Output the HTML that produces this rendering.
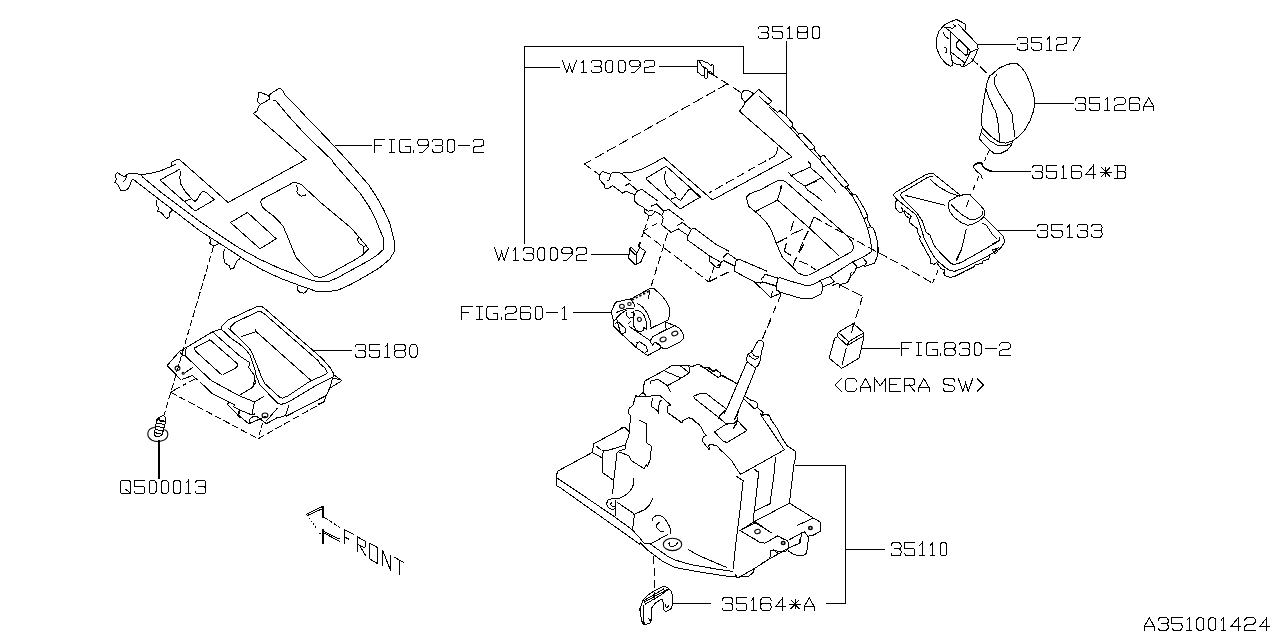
<!DOCTYPE html>
<html><head><meta charset="utf-8"><title>A351001424</title>
<style>
html,body{margin:0;padding:0;background:#fff;}
body{width:1280px;height:640px;overflow:hidden;font-family:"Liberation Sans",sans-serif;}
svg{display:block;}
</style></head><body>
<svg width="1280" height="640" viewBox="0 0 1280 640">
<rect width="1280" height="640" fill="#fff"/>
<g fill="none" stroke="#000" stroke-width="1.0" stroke-linecap="square" stroke-linejoin="miter" vector-effect="non-scaling-stroke" shape-rendering="crispEdges">
<path d="M384.66,139.50 L374.00,139.50 L374.00,152.20 M374.00,145.58 L381.10,145.58 M391.96,139.50 L391.96,152.20 M389.27,139.50 L394.65,139.50 M389.27,152.20 L394.65,152.20 M410.33,139.50 L401.80,139.50 Q399.27,139.50 399.27,141.99 L399.27,149.71 Q399.27,152.20 401.80,152.20 L410.33,152.20 L410.33,146.27 L405.68,146.27 M413.93,150.01 L413.93,152.50 M428.29,143.29 Q428.29,145.78 425.75,145.78 L420.38,145.78 Q417.84,145.78 417.84,143.29 L417.84,141.99 Q417.84,139.50 420.38,139.50 L425.75,139.50 Q428.29,139.50 428.29,141.99 L428.29,146.67 L422.86,152.20 L419.93,152.20 M432.25,141.79 Q432.25,139.50 434.78,139.50 L440.16,139.50 Q442.70,139.50 442.70,141.79 L442.70,143.38 Q442.70,145.58 440.16,145.58 L435.70,145.58 M440.16,145.58 Q442.70,145.58 442.70,147.97 L442.70,149.71 Q442.70,152.20 440.16,152.20 L434.78,152.20 Q432.25,152.20 432.25,149.91 M450.06,139.50 L451.68,139.50 Q454.42,139.50 454.42,142.19 L454.42,149.51 Q454.42,152.20 451.68,152.20 L450.06,152.20 Q447.32,152.20 447.32,149.51 L447.32,142.19 Q447.32,139.50 450.06,139.50 M458.68,145.68 L469.44,145.68 M473.04,141.99 Q473.04,139.50 475.58,139.50 L481.36,139.50 Q483.90,139.50 483.90,141.99 L483.90,143.58 Q483.90,145.78 481.36,146.07 L475.58,146.67 Q473.04,147.07 473.04,149.06 L473.04,152.20 L483.90,152.20"/>
<path d="M758.00,28.66 Q758.00,26.50 760.51,26.50 L765.83,26.50 Q768.34,26.50 768.34,28.66 L768.34,30.17 Q768.34,32.24 765.83,32.24 L761.41,32.24 M765.83,32.24 Q768.34,32.24 768.34,34.50 L768.34,36.15 Q768.34,38.50 765.83,38.50 L760.51,38.50 Q758.00,38.50 758.00,36.34 M782.60,26.50 L772.26,26.50 L772.26,31.68 L779.89,31.68 Q782.60,31.68 782.60,34.03 L782.60,36.15 Q782.60,38.50 780.09,38.50 L774.77,38.50 Q772.26,38.50 772.26,36.34 M787.77,28.76 L789.88,26.50 L789.88,38.50 M787.57,38.50 L792.19,38.50 M799.47,26.50 L805.59,26.50 Q807.90,26.50 807.90,28.66 L807.90,30.08 Q807.90,32.24 805.59,32.24 L799.47,32.24 Q797.16,32.24 797.16,30.08 L797.16,28.66 Q797.16,26.50 799.47,26.50 M799.67,32.24 L805.39,32.24 Q807.90,32.24 807.90,34.59 L807.90,36.15 Q807.90,38.50 805.39,38.50 L799.67,38.50 Q797.16,38.50 797.16,36.15 L797.16,34.59 Q797.16,32.24 799.67,32.24 M815.18,26.50 L816.79,26.50 Q819.50,26.50 819.50,29.04 L819.50,35.96 Q819.50,38.50 816.79,38.50 L815.18,38.50 Q812.47,38.50 812.47,35.96 L812.47,29.04 Q812.47,26.50 815.18,26.50"/>
<path d="M562.40,60.50 L566.76,72.40 L569.43,64.61 L572.10,72.40 L576.45,60.50 M581.62,62.74 L583.73,60.50 L583.73,72.40 M581.42,72.40 L586.04,72.40 M591.01,62.65 Q591.01,60.50 593.52,60.50 L598.84,60.50 Q601.35,60.50 601.35,62.65 L601.35,64.14 Q601.35,66.19 598.84,66.19 L594.42,66.19 M598.84,66.19 Q601.35,66.19 601.35,68.43 L601.35,70.07 Q601.35,72.40 598.84,72.40 L593.52,72.40 Q591.01,72.40 591.01,70.25 M608.63,60.50 L610.23,60.50 Q612.94,60.50 612.94,63.02 L612.94,69.88 Q612.94,72.40 610.23,72.40 L608.63,72.40 Q605.91,72.40 605.91,69.88 L605.91,63.02 Q605.91,60.50 608.63,60.50 M620.87,60.50 L622.48,60.50 Q625.19,60.50 625.19,63.02 L625.19,69.88 Q625.19,72.40 622.48,72.40 L620.87,72.40 Q618.16,72.40 618.16,69.88 L618.16,63.02 Q618.16,60.50 620.87,60.50 M640.09,64.05 Q640.09,66.38 637.58,66.38 L632.26,66.38 Q629.76,66.38 629.76,64.05 L629.76,62.83 Q629.76,60.50 632.26,60.50 L637.58,60.50 Q640.09,60.50 640.09,62.83 L640.09,67.22 L634.72,72.40 L631.82,72.40 M644.01,62.83 Q644.01,60.50 646.52,60.50 L652.24,60.50 Q654.75,60.50 654.75,62.83 L654.75,64.33 Q654.75,66.38 652.24,66.66 L646.52,67.22 Q644.01,67.59 644.01,69.46 L644.01,72.40 L654.75,72.40"/>
<path d="M494.50,247.75 L498.85,260.25 L501.52,252.06 L504.19,260.25 L508.54,247.75 M513.70,250.10 L515.81,247.75 L515.81,260.25 M513.50,260.25 L518.11,260.25 M523.08,250.00 Q523.08,247.75 525.58,247.75 L530.90,247.75 Q533.41,247.75 533.41,250.00 L533.41,251.57 Q533.41,253.73 530.90,253.73 L526.49,253.73 M530.90,253.73 Q533.41,253.73 533.41,256.08 L533.41,257.80 Q533.41,260.25 530.90,260.25 L525.58,260.25 Q523.08,260.25 523.08,258.00 M540.68,247.75 L542.28,247.75 Q544.99,247.75 544.99,250.40 L544.99,257.60 Q544.99,260.25 542.28,260.25 L540.68,260.25 Q537.97,260.25 537.97,257.60 L537.97,250.40 Q537.97,247.75 540.68,247.75 M552.91,247.75 L554.51,247.75 Q557.22,247.75 557.22,250.40 L557.22,257.60 Q557.22,260.25 554.51,260.25 L552.91,260.25 Q550.20,260.25 550.20,257.60 L550.20,250.40 Q550.20,247.75 552.91,247.75 M572.11,251.48 Q572.11,253.93 569.60,253.93 L564.29,253.93 Q561.78,253.93 561.78,251.48 L561.78,250.20 Q561.78,247.75 564.29,247.75 L569.60,247.75 Q572.11,247.75 572.11,250.20 L572.11,254.81 L566.74,260.25 L563.85,260.25 M576.02,250.20 Q576.02,247.75 578.53,247.75 L584.24,247.75 Q586.75,247.75 586.75,250.20 L586.75,251.77 Q586.75,253.93 584.24,254.22 L578.53,254.81 Q576.02,255.20 576.02,257.16 L576.02,260.25 L586.75,260.25"/>
<path d="M472.16,306.50 L461.50,306.50 L461.50,319.25 M461.50,312.60 L468.61,312.60 M479.47,306.50 L479.47,319.25 M476.78,306.50 L482.16,306.50 M476.78,319.25 L482.16,319.25 M497.85,306.50 L489.32,306.50 Q486.78,306.50 486.78,309.00 L486.78,316.75 Q486.78,319.25 489.32,319.25 L497.85,319.25 L497.85,313.30 L493.20,313.30 M501.46,317.05 L501.46,319.55 M505.37,309.00 Q505.37,306.50 507.91,306.50 L513.69,306.50 Q516.23,306.50 516.23,309.00 L516.23,310.60 Q516.23,312.80 513.69,313.10 L507.91,313.70 Q505.37,314.10 505.37,316.10 L505.37,319.25 L516.23,319.25 M530.65,308.80 Q530.65,306.50 528.11,306.50 L522.73,306.50 Q520.19,306.50 520.19,309.00 L520.19,316.75 Q520.19,319.25 522.73,319.25 L528.11,319.25 Q530.65,319.25 530.65,316.75 L530.65,314.60 Q530.65,312.20 528.11,312.20 L522.73,312.20 Q520.19,312.20 520.19,314.60 M538.01,306.50 L539.64,306.50 Q542.38,306.50 542.38,309.20 L542.38,316.55 Q542.38,319.25 539.64,319.25 L538.01,319.25 Q535.27,319.25 535.27,316.55 L535.27,309.20 Q535.27,306.50 538.01,306.50 M546.64,312.70 L557.41,312.70 M562.28,308.90 L564.41,306.50 L564.41,319.25 M562.08,319.25 L566.75,319.25"/>
<path d="M355.25,346.80 Q355.25,344.50 357.77,344.50 L363.11,344.50 Q365.63,344.50 365.63,346.80 L365.63,348.40 Q365.63,350.60 363.11,350.60 L358.68,350.60 M363.11,350.60 Q365.63,350.60 365.63,353.00 L365.63,354.75 Q365.63,357.25 363.11,357.25 L357.77,357.25 Q355.25,357.25 355.25,354.95 M379.95,344.50 L369.57,344.50 L369.57,350.00 L377.23,350.00 Q379.95,350.00 379.95,352.50 L379.95,354.75 Q379.95,357.25 377.43,357.25 L372.09,357.25 Q369.57,357.25 369.57,354.95 M385.14,346.90 L387.26,344.50 L387.26,357.25 M384.94,357.25 L389.58,357.25 M396.89,344.50 L403.04,344.50 Q405.36,344.50 405.36,346.80 L405.36,348.30 Q405.36,350.60 403.04,350.60 L396.89,350.60 Q394.57,350.60 394.57,348.30 L394.57,346.80 Q394.57,344.50 396.89,344.50 M397.09,350.60 L402.84,350.60 Q405.36,350.60 405.36,353.10 L405.36,354.75 Q405.36,357.25 402.84,357.25 L397.09,357.25 Q394.57,357.25 394.57,354.75 L394.57,353.10 Q394.57,350.60 397.09,350.60 M412.66,344.50 L414.28,344.50 Q417.00,344.50 417.00,347.20 L417.00,354.55 Q417.00,357.25 414.28,357.25 L412.66,357.25 Q409.94,357.25 409.94,354.55 L409.94,347.20 Q409.94,344.50 412.66,344.50"/>
<path d="M122.94,480.50 L127.81,480.50 Q130.50,480.50 130.50,483.25 L130.50,490.75 Q130.50,493.50 127.81,493.50 L122.94,493.50 Q120.25,493.50 120.25,490.75 L120.25,483.25 Q120.25,480.50 122.94,480.50 M125.89,489.57 L130.80,493.50 M144.64,480.50 L134.38,480.50 L134.38,486.11 L141.95,486.11 Q144.64,486.11 144.64,488.66 L144.64,490.95 Q144.64,493.50 142.15,493.50 L136.87,493.50 Q134.38,493.50 134.38,491.15 M151.85,480.50 L153.44,480.50 Q156.13,480.50 156.13,483.25 L156.13,490.75 Q156.13,493.50 153.44,493.50 L151.85,493.50 Q149.16,493.50 149.16,490.75 L149.16,483.25 Q149.16,480.50 151.85,480.50 M164.00,480.50 L165.59,480.50 Q168.28,480.50 168.28,483.25 L168.28,490.75 Q168.28,493.50 165.59,493.50 L164.00,493.50 Q161.31,493.50 161.31,490.75 L161.31,483.25 Q161.31,480.50 164.00,480.50 M176.14,480.50 L177.73,480.50 Q180.42,480.50 180.42,483.25 L180.42,490.75 Q180.42,493.50 177.73,493.50 L176.14,493.50 Q173.45,493.50 173.45,490.75 L173.45,483.25 Q173.45,480.50 176.14,480.50 M186.19,482.95 L188.28,480.50 L188.28,493.50 M185.99,493.50 L190.57,493.50 M195.50,482.85 Q195.50,480.50 197.99,480.50 L203.26,480.50 Q205.75,480.50 205.75,482.85 L205.75,484.48 Q205.75,486.72 203.26,486.72 L198.88,486.72 M203.26,486.72 Q205.75,486.72 205.75,489.17 L205.75,490.95 Q205.75,493.50 203.26,493.50 L197.99,493.50 Q195.50,493.50 195.50,491.15"/>
<path d="M1017.40,39.69 Q1017.40,37.40 1019.89,37.40 L1025.18,37.40 Q1027.68,37.40 1027.68,39.69 L1027.68,41.28 Q1027.68,43.48 1025.18,43.48 L1020.79,43.48 M1025.18,43.48 Q1027.68,43.48 1027.68,45.87 L1027.68,47.61 Q1027.68,50.10 1025.18,50.10 L1019.89,50.10 Q1017.40,50.10 1017.40,47.81 M1041.84,37.40 L1031.57,37.40 L1031.57,42.88 L1039.15,42.88 Q1041.84,42.88 1041.84,45.37 L1041.84,47.61 Q1041.84,50.10 1039.35,50.10 L1034.06,50.10 Q1031.57,50.10 1031.57,47.81 M1046.98,39.79 L1049.07,37.40 L1049.07,50.10 M1046.78,50.10 L1051.37,50.10 M1056.31,39.89 Q1056.31,37.40 1058.80,37.40 L1064.49,37.40 Q1066.98,37.40 1066.98,39.89 L1066.98,41.48 Q1066.98,43.68 1064.49,43.97 L1058.80,44.57 Q1056.31,44.97 1056.31,46.96 L1056.31,50.10 L1066.98,50.10 M1072.12,37.40 L1080.50,37.40 L1073.52,50.10"/>
<path d="M1075.25,100.05 Q1075.25,97.75 1077.77,97.75 L1083.10,97.75 Q1085.62,97.75 1085.62,100.05 L1085.62,101.65 Q1085.62,103.85 1083.10,103.85 L1078.67,103.85 M1083.10,103.85 Q1085.62,103.85 1085.62,106.25 L1085.62,108.00 Q1085.62,110.50 1083.10,110.50 L1077.77,110.50 Q1075.25,110.50 1075.25,108.20 M1099.92,97.75 L1089.55,97.75 L1089.55,103.25 L1097.20,103.25 Q1099.92,103.25 1099.92,105.75 L1099.92,108.00 Q1099.92,110.50 1097.40,110.50 L1092.07,110.50 Q1089.55,110.50 1089.55,108.20 M1105.11,100.15 L1107.22,97.75 L1107.22,110.50 M1104.91,110.50 L1109.54,110.50 M1114.52,100.25 Q1114.52,97.75 1117.04,97.75 L1122.78,97.75 Q1125.30,97.75 1125.30,100.25 L1125.30,101.85 Q1125.30,104.05 1122.78,104.35 L1117.04,104.95 Q1114.52,105.35 1114.52,107.35 L1114.52,110.50 L1125.30,110.50 M1139.60,100.05 Q1139.60,97.75 1137.08,97.75 L1131.75,97.75 Q1129.23,97.75 1129.23,100.25 L1129.23,108.00 Q1129.23,110.50 1131.75,110.50 L1137.08,110.50 Q1139.60,110.50 1139.60,108.00 L1139.60,105.85 Q1139.60,103.45 1137.08,103.45 L1131.75,103.45 Q1129.23,103.45 1129.23,105.85 M1143.53,110.50 L1143.53,106.85 L1148.71,97.75 L1153.90,106.85 L1153.90,110.50 M1143.53,106.85 L1153.90,106.85"/>
<path d="M1032.40,167.80 Q1032.40,165.50 1034.89,165.50 L1040.16,165.50 Q1042.65,165.50 1042.65,167.80 L1042.65,169.40 Q1042.65,171.60 1040.16,171.60 L1035.78,171.60 M1040.16,171.60 Q1042.65,171.60 1042.65,174.00 L1042.65,175.75 Q1042.65,178.25 1040.16,178.25 L1034.89,178.25 Q1032.40,178.25 1032.40,175.95 M1056.77,165.50 L1046.52,165.50 L1046.52,171.00 L1054.08,171.00 Q1056.77,171.00 1056.77,173.50 L1056.77,175.75 Q1056.77,178.25 1054.28,178.25 L1049.01,178.25 Q1046.52,178.25 1046.52,175.95 M1061.89,167.90 L1063.98,165.50 L1063.98,178.25 M1061.69,178.25 L1066.27,178.25 M1081.44,167.80 Q1081.44,165.50 1078.95,165.50 L1073.68,165.50 Q1071.19,165.50 1071.19,168.00 L1071.19,175.75 Q1071.19,178.25 1073.68,178.25 L1078.95,178.25 Q1081.44,178.25 1081.44,175.75 L1081.44,173.60 Q1081.44,171.20 1078.95,171.20 L1073.68,171.20 Q1071.19,171.20 1071.19,173.60 M1093.32,178.25 L1093.32,165.50 L1086.16,174.30 L1095.71,174.30 M1100.09,172.00 L1111.23,172.00 M1101.68,167.70 L1109.64,176.30 M1109.64,167.70 L1101.68,176.30 M1105.66,167.40 L1105.66,176.60 M1117.30,165.50 L1117.30,178.25 M1114.61,165.50 L1123.06,165.50 Q1125.75,165.50 1125.75,167.80 L1125.75,169.40 Q1125.75,171.60 1123.06,171.60 L1117.30,171.60 M1123.06,171.60 Q1125.75,171.60 1125.75,174.00 L1125.75,175.75 Q1125.75,178.25 1123.06,178.25 L1114.61,178.25"/>
<path d="M1037.40,226.80 Q1037.40,224.50 1039.94,224.50 L1045.34,224.50 Q1047.88,224.50 1047.88,226.80 L1047.88,228.40 Q1047.88,230.60 1045.34,230.60 L1040.86,230.60 M1045.34,230.60 Q1047.88,230.60 1047.88,233.00 L1047.88,234.75 Q1047.88,237.25 1045.34,237.25 L1039.94,237.25 Q1037.40,237.25 1037.40,234.95 M1062.32,224.50 L1051.85,224.50 L1051.85,230.00 L1059.58,230.00 Q1062.32,230.00 1062.32,232.50 L1062.32,234.75 Q1062.32,237.25 1059.78,237.25 L1054.39,237.25 Q1051.85,237.25 1051.85,234.95 M1067.56,226.90 L1069.70,224.50 L1069.70,237.25 M1067.36,237.25 L1072.04,237.25 M1077.08,226.80 Q1077.08,224.50 1079.62,224.50 L1085.01,224.50 Q1087.55,224.50 1087.55,226.80 L1087.55,228.40 Q1087.55,230.60 1085.01,230.60 L1080.53,230.60 M1085.01,230.60 Q1087.55,230.60 1087.55,233.00 L1087.55,234.75 Q1087.55,237.25 1085.01,237.25 L1079.62,237.25 Q1077.08,237.25 1077.08,234.95 M1091.52,226.80 Q1091.52,224.50 1094.06,224.50 L1099.46,224.50 Q1102.00,224.50 1102.00,226.80 L1102.00,228.40 Q1102.00,230.60 1099.46,230.60 L1094.98,230.60 M1099.46,230.60 Q1102.00,230.60 1102.00,233.00 L1102.00,234.75 Q1102.00,237.25 1099.46,237.25 L1094.06,237.25 Q1091.52,237.25 1091.52,234.95"/>
<path d="M911.57,342.70 L901.00,342.70 L901.00,355.40 M901.00,348.78 L908.05,348.78 M918.81,342.70 L918.81,355.40 M916.15,342.70 L921.48,342.70 M916.15,355.40 L921.48,355.40 M937.03,342.70 L928.58,342.70 Q926.06,342.70 926.06,345.19 L926.06,352.91 Q926.06,355.40 928.58,355.40 L937.03,355.40 L937.03,349.47 L932.42,349.47 M940.60,353.21 L940.60,355.70 M946.79,342.70 L952.93,342.70 Q955.25,342.70 955.25,344.99 L955.25,346.49 Q955.25,348.78 952.93,348.78 L946.79,348.78 Q944.48,348.78 944.48,346.49 L944.48,344.99 Q944.48,342.70 946.79,342.70 M946.99,348.78 L952.73,348.78 Q955.25,348.78 955.25,351.27 L955.25,352.91 Q955.25,355.40 952.73,355.40 L946.99,355.40 Q944.48,355.40 944.48,352.91 L944.48,351.27 Q944.48,348.78 946.99,348.78 M959.17,344.99 Q959.17,342.70 961.69,342.70 L967.02,342.70 Q969.54,342.70 969.54,344.99 L969.54,346.58 Q969.54,348.78 967.02,348.78 L962.59,348.78 M967.02,348.78 Q969.54,348.78 969.54,351.17 L969.54,352.91 Q969.54,355.40 967.02,355.40 L961.69,355.40 Q959.17,355.40 959.17,353.11 M976.84,342.70 L978.45,342.70 Q981.16,342.70 981.16,345.39 L981.16,352.71 Q981.16,355.40 978.45,355.40 L976.84,355.40 Q974.12,355.40 974.12,352.71 L974.12,345.39 Q974.12,342.70 976.84,342.70 M985.39,348.88 L996.06,348.88 M999.63,345.19 Q999.63,342.70 1002.15,342.70 L1007.88,342.70 Q1010.40,342.70 1010.40,345.19 L1010.40,346.78 Q1010.40,348.98 1007.88,349.27 L1002.15,349.87 Q999.63,350.27 999.63,352.26 L999.63,355.40 L1010.40,355.40"/>
<path d="M841.25,378.60 L834.90,385.00 L841.25,391.40 M856.24,381.11 Q856.24,378.60 853.68,378.60 L848.26,378.60 Q845.70,378.60 845.70,381.11 L845.70,388.89 Q845.70,391.40 848.26,391.40 L853.68,391.40 Q856.24,391.40 856.24,388.89 M860.23,391.40 L860.23,387.74 L865.50,378.60 L870.77,387.74 L870.77,391.40 M860.23,387.74 L870.77,387.74 M874.76,391.40 L874.76,378.60 L880.19,385.83 L885.61,378.60 L885.61,391.40 M900.14,378.60 L889.60,378.60 L889.60,391.40 L900.14,391.40 M889.60,384.72 L896.98,384.72 M904.13,391.40 L904.13,378.60 L912.12,378.60 Q914.68,378.60 914.68,381.11 L914.68,382.72 Q914.68,385.13 912.12,385.13 L904.13,385.13 M909.40,385.13 L914.68,391.40 M918.67,391.40 L918.67,387.74 L923.94,378.60 L929.21,387.74 L929.21,391.40 M918.67,387.74 L929.21,387.74 M954.38,381.11 Q954.38,378.60 951.83,378.60 L945.89,378.60 Q943.33,378.60 943.33,381.11 L943.33,382.01 Q943.33,383.92 945.89,384.52 L951.83,385.63 Q954.38,386.23 954.38,387.94 L954.38,388.89 Q954.38,391.40 951.83,391.40 L945.89,391.40 Q943.33,391.40 943.33,388.89 M958.38,378.60 L962.82,391.40 L965.54,383.02 L968.26,391.40 L972.70,378.60 M977.15,378.60 L983.50,385.00 L977.15,391.40"/>
<path d="M891.00,545.13 Q891.00,542.80 893.44,542.80 L898.62,542.80 Q901.06,542.80 901.06,545.13 L901.06,546.75 Q901.06,548.97 898.62,548.97 L894.32,548.97 M898.62,548.97 Q901.06,548.97 901.06,551.40 L901.06,553.17 Q901.06,555.70 898.62,555.70 L893.44,555.70 Q891.00,555.70 891.00,553.37 M914.92,542.80 L904.87,542.80 L904.87,548.36 L912.29,548.36 Q914.92,548.36 914.92,550.89 L914.92,553.17 Q914.92,555.70 912.48,555.70 L907.31,555.70 Q904.87,555.70 904.87,553.37 M919.95,545.23 L922.00,542.80 L922.00,555.70 M919.76,555.70 L924.25,555.70 M930.30,545.23 L932.35,542.80 L932.35,555.70 M930.11,555.70 L934.60,555.70 M942.70,542.80 L944.26,542.80 Q946.90,542.80 946.90,545.53 L946.90,552.97 Q946.90,555.70 944.26,555.70 L942.70,555.70 Q940.07,555.70 940.07,552.97 L940.07,545.53 Q940.07,542.80 942.70,542.80"/>
<path d="M722.40,600.01 Q722.40,597.70 724.87,597.70 L730.10,597.70 Q732.57,597.70 732.57,600.01 L732.57,601.62 Q732.57,603.82 730.10,603.82 L725.76,603.82 M730.10,603.82 Q732.57,603.82 732.57,606.23 L732.57,607.99 Q732.57,610.50 730.10,610.50 L724.87,610.50 Q722.40,610.50 722.40,608.19 M746.58,597.70 L736.42,597.70 L736.42,603.22 L743.92,603.22 Q746.58,603.22 746.58,605.73 L746.58,607.99 Q746.58,610.50 744.12,610.50 L738.88,610.50 Q736.42,610.50 736.42,608.19 M751.67,600.11 L753.74,597.70 L753.74,610.50 M751.47,610.50 L756.01,610.50 M771.06,600.01 Q771.06,597.70 768.60,597.70 L763.37,597.70 Q760.90,597.70 760.90,600.21 L760.90,607.99 Q760.90,610.50 763.37,610.50 L768.60,610.50 Q771.06,610.50 771.06,607.99 L771.06,605.83 Q771.06,603.42 768.60,603.42 L763.37,603.42 Q760.90,603.42 760.90,605.83 M782.86,610.50 L782.86,597.70 L775.75,606.53 L785.23,606.53 M789.57,604.23 L800.63,604.23 M791.15,599.91 L799.05,608.54 M799.05,599.91 L791.15,608.54 M795.10,599.61 L795.10,608.84 M804.13,610.50 L804.13,606.84 L809.22,597.70 L814.30,606.84 L814.30,610.50 M804.13,606.84 L814.30,606.84"/>
<path d="M1144.25,630.25 L1144.25,626.67 L1149.28,617.75 L1154.30,626.67 L1154.30,630.25 M1144.25,626.67 L1154.30,626.67 M1158.11,620.00 Q1158.11,617.75 1160.55,617.75 L1165.73,617.75 Q1168.17,617.75 1168.17,620.00 L1168.17,621.57 Q1168.17,623.73 1165.73,623.73 L1161.43,623.73 M1165.73,623.73 Q1168.17,623.73 1168.17,626.08 L1168.17,627.80 Q1168.17,630.25 1165.73,630.25 L1160.55,630.25 Q1158.11,630.25 1158.11,628.00 M1182.03,617.75 L1171.97,617.75 L1171.97,623.14 L1179.39,623.14 Q1182.03,623.14 1182.03,625.59 L1182.03,627.80 Q1182.03,630.25 1179.59,630.25 L1174.41,630.25 Q1171.97,630.25 1171.97,628.00 M1187.06,620.10 L1189.11,617.75 L1189.11,630.25 M1186.86,630.25 L1191.35,630.25 M1199.45,617.75 L1201.01,617.75 Q1203.65,617.75 1203.65,620.40 L1203.65,627.60 Q1203.65,630.25 1201.01,630.25 L1199.45,630.25 Q1196.82,630.25 1196.82,627.60 L1196.82,620.40 Q1196.82,617.75 1199.45,617.75 M1211.36,617.75 L1212.92,617.75 Q1215.56,617.75 1215.56,620.40 L1215.56,627.60 Q1215.56,630.25 1212.92,630.25 L1211.36,630.25 Q1208.73,630.25 1208.73,627.60 L1208.73,620.40 Q1208.73,617.75 1211.36,617.75 M1221.22,620.10 L1223.27,617.75 L1223.27,630.25 M1221.03,630.25 L1225.52,630.25 M1238.21,630.25 L1238.21,617.75 L1231.18,626.38 L1240.55,626.38 M1244.80,620.20 Q1244.80,617.75 1247.24,617.75 L1252.80,617.75 Q1255.24,617.75 1255.24,620.20 L1255.24,621.77 Q1255.24,623.93 1252.80,624.22 L1247.24,624.81 Q1244.80,625.20 1244.80,627.16 L1244.80,630.25 L1255.24,630.25 M1266.91,630.25 L1266.91,617.75 L1259.88,626.38 L1269.25,626.38"/>
</g>
<g fill="none" stroke="#000" stroke-width="1.0" stroke-linecap="butt" stroke-linejoin="round" shape-rendering="crispEdges">
<path d="M335.0,145.5 L372.0,145.5"/>
<path d="M524.5,243.7 L524.5,46.3 L743.5,46.3 L743.5,73.4 L786.6,73.4"/>
<path d="M786.6,41.3 L786.6,116.3"/>
<path d="M524.5,67.0 L559.7,67.0"/>
<path d="M659.0,66.5 L697.3,66.5"/>
<path d="M591.2,254.4 L629.4,254.4"/>
<path d="M573.0,312.5 L611.0,312.5"/>
<path d="M312.5,350.3 L351.5,350.3"/>
<path d="M977.0,44.4 L1016.0,44.4"/>
<path d="M1034.7,103.5 L1073.7,103.5"/>
<path d="M998.0,230.3 L1036.0,230.3"/>
<path d="M861.0,348.4 L899.7,348.4"/>
<path d="M795.0,465.5 L845.6,465.5 L845.6,603.7 L826.3,603.7"/>
<path d="M845.6,549.5 L885.3,549.5"/>
<path d="M672.0,603.7 L710.5,603.7"/>
<path d="M132.5,178.8 L129.4,186.2 L127.5,189.4 L125.0,190.2 L120.6,190.2 L119.4,187.5 L117.5,184.4 L114.8,182.2 L116.2,179.4 L115.2,174.4 L117.5,172.8 L121.2,175.0 L125.0,176.9 L126.9,174.4 L130.0,173.5 L136.2,173.5 L141.2,174.8 L152.5,172.9 L161.2,170.6 L170.0,166.9 L176.2,163.8"/>
<path d="M171.2,165.6 L171.9,161.9 L176.9,159.4 L180.0,160.0 L228.1,202.5 L306.2,159.4 L253.5,113.5 L256.9,111.0 L258.8,106.2 L260.6,104.4 L258.8,103.1 L257.2,100.6 L258.8,96.2 L258.5,92.5 L261.2,92.5 L268.1,95.6 L269.4,96.9 L270.0,94.4 L274.4,91.2 L280.0,88.1 L283.1,91.2 L285.0,95.0 L297.5,107.5 L309.4,120.6 L320.0,131.2 L333.1,145.0 L346.9,160.0 L368.8,185.0 L376.2,196.2 L383.8,210.0 L390.0,223.8 L391.4,229.4 L394.5,241.9 L394.5,251.2 L389.8,259.1 L379.7,267.7 L365.6,276.2 L350.0,284.8 L337.5,290.3 L325.0,291.9 L315.6,291.1 L300.0,285.6 L281.2,278.6 L262.5,270.0 L243.8,259.1 L223.4,245.8 L200.0,230.9 L132.5,178.8"/>
<path d="M260.6,104.4 L269.4,99.4 L269.4,96.9"/>
<path d="M141.2,174.8 L142.5,176.9 L158.8,190.6 L200.0,221.6 L220.3,235.6 L240.6,248.9 L259.4,259.1 L278.1,267.7 L293.8,273.9 L306.2,278.6 L317.2,281.7 L328.1,281.7 L337.5,277.8 L353.1,269.2 L368.8,260.6 L378.1,254.4 L383.1,249.7 L383.6,238.8 L379.7,229.4 L378.8,227.5 L375.6,218.8 L368.8,206.2 L360.0,193.1 L333.1,162.5 L331.9,160.0 L318.8,147.5 L301.2,130.0 L288.1,115.6 L276.2,101.2 L273.1,100.0"/>
<path d="M368.8,248.9 L363.3,254.4 L356.2,259.1 L340.6,267.7 L328.1,274.7 L321.1,277.5 L314.8,276.6 L306.2,268.4 L296.1,257.5 L292.2,248.1 L286.9,235.0 L283.1,226.2 L280.0,222.5 L273.8,216.2 L266.2,210.6 L262.5,206.9 L260.6,201.9 L261.9,199.4 L290.0,184.4 L292.5,182.5 L296.2,182.8 L301.2,184.4 L320.0,201.9 L351.2,228.1 L357.8,235.6 L368.8,248.9"/>
<path d="M358.6,236.4 L357.5,240.3 L359.4,243.4 L364.1,246.6 L363.3,252.8"/>
<path d="M296.2,185.6 L298.1,188.1 L296.9,191.2 L297.5,193.8 L301.2,196.2 L305.0,195.6 L305.9,194.4"/>
<path d="M230.5,222.5 L247.5,212.5 L276.2,238.8 L260.0,248.8 L230.5,222.5"/>
<path d="M180.6,168.8 L160.0,180.0 L195.0,211.0 L214.4,199.8 L206.2,192.5 L203.8,191.2 L201.2,192.5 L197.5,198.8 L195.0,201.5 L192.5,199.4 L191.2,198.1"/>
<path d="M180.6,171.2 L179.8,177.5 L180.6,183.8 L185.0,191.2 L191.2,198.1"/>
<path d="M185.0,201.2 L191.2,198.8"/>
<path d="M156.9,200.0 L156.2,205.0 L158.8,208.1 L157.5,211.2 L161.2,212.5 L166.2,218.5 L168.8,217.5 L170.0,212.5 L172.5,210.0"/>
<path d="M122.5,182.5 L125.6,179.4 L126.5,176.2"/>
<path d="M209.4,238.0 L210.9,240.3 L209.7,243.4 L212.5,245.3 L216.4,245.0 L218.8,243.4"/>
<path d="M224.2,248.9 L223.4,255.9 L224.7,263.0 L228.9,265.3 L230.5,269.2 L233.6,268.4 L236.7,261.4 L240.3,258.3"/>
<path d="M297.7,285.6 L297.2,289.5 L300.0,292.7 L303.9,293.1 L306.6,291.1 L307.5,288.0"/>
<path d="M186.2,347.5 L179.4,351.5 L167.1,365.6 L181.2,380.0"/>
<path d="M179.4,351.5 L182.5,355.0 L185.0,355.6 L186.2,347.5"/>
<path d="M185.0,372.5 L193.1,367.5"/>
<path d="M181.9,379.4 L192.5,375.6 L197.5,380.0"/>
<path d="M178.8,363.5 L178.8,366.0"/>
<path d="M186.2,347.5 L212.5,331.9 L221.2,329.0 L221.2,326.9 L228.1,320.0 L256.2,306.9 L260.0,306.0 L263.8,307.5 L265.0,308.8 L312.5,350.0 L322.5,358.8 L330.0,367.5 L333.8,373.8 L333.8,373.8 L333.1,376.9 L315.0,386.2 L287.5,402.5 L281.2,404.4 L277.5,403.1 L260.0,385.0 L256.2,376.2 L255.0,370.0 L252.5,362.5 L250.0,355.0 L246.2,350.0 L240.0,344.4 L230.0,337.5 L221.2,329.0"/>
<path d="M228.1,328.1 L230.0,330.0 L230.6,326.9 L235.0,322.5 L258.8,311.2 L261.2,311.9 L265.0,314.4 L318.8,361.2 L320.0,363.8 L325.0,368.1 L325.0,368.8 L327.5,372.5 L325.6,374.4 L310.0,381.2 L287.5,396.2 L282.5,398.1 L280.0,397.5 L265.0,383.8 L261.2,376.2 L258.8,370.0 L255.0,360.0 L251.2,351.2 L247.5,346.2 L240.0,338.8 L228.1,328.1"/>
<path d="M241.2,336.5 L255.0,331.9 L255.0,329.4"/>
<path d="M255.0,330.6 L311.2,380.6"/>
<path d="M212.5,331.9 L213.8,333.1 L240.0,356.2 L249.4,362.5 L248.8,367.5 L252.5,373.1 L253.8,373.8 L255.6,382.5 L252.5,387.5"/>
<path d="M185.0,355.6 L210.0,379.4 L212.5,381.2 L238.8,395.6 L252.5,387.5 L255.0,378.8"/>
<path d="M194.4,348.1 L210.0,339.8 L237.5,363.8 L237.5,366.2"/>
<path d="M194.4,348.1 L195.6,351.2 L221.2,374.4 L220.6,374.4"/>
<path d="M223.1,374.4 L235.6,368.1 L237.5,366.2 L236.9,363.8 L233.1,360.0"/>
<path d="M200.0,381.9 L212.5,393.8 L228.8,401.9 L227.5,404.4 L237.5,414.4 L248.8,423.8 L250.0,418.8 L253.8,416.2 L257.5,416.9 L265.0,422.5 L266.2,423.8 L277.5,417.5 L281.2,416.9 L285.6,415.6 L288.8,405.0"/>
<path d="M238.8,395.6 L254.4,401.9 L263.8,396.5"/>
<path d="M254.4,401.9 L251.9,415.0"/>
<path d="M229.4,402.5 L234.4,404.4 L233.8,406.9 L240.0,410.0 L251.9,415.0 L255.0,413.8"/>
<path d="M248.8,423.8 L266.2,416.2"/>
<path d="M277.5,408.1 L266.2,421.2"/>
<path d="M333.1,374.4 L341.9,380.6 L330.0,388.1"/>
<path d="M332.5,378.1 L340.6,379.8"/>
<path d="M332.5,377.5 L331.2,383.8 L328.8,390.0 L326.2,395.6 L323.8,401.9 L317.5,404.4"/>
<path d="M326.2,395.6 L286.2,416.2"/>
<path d="M162.8,415.3 L159.4,417.5 L156.9,420.0 L156.2,423.1 L155.0,430.0 L154.1,434.4 L155.0,435.9 L158.1,436.6 L161.2,435.6 L161.9,434.4 L163.1,431.2 L164.4,426.2 L165.6,422.5 L165.9,419.4 L165.0,416.9 L162.8,415.3"/>
<path d="M157.3,419.5 L165.8,421.4"/>
<path d="M156.6,422.8 L165.4,424.9"/>
<path d="M155.9,426.1 L164.5,428.0"/>
<path d="M155.3,429.4 L163.6,431.2"/>
<path d="M154.7,432.6 L162.6,434.4"/>
<path d="M157.8,418.4 L159.4,420.9 L163.8,421.9"/>
<path d="M600.0,174.4 L602.5,171.5 L606.2,172.5 L610.6,174.4 L612.5,172.5 L621.2,173.1 L631.2,172.5 L642.5,168.8 L655.0,162.5 L663.8,157.5 L712.5,200.0 L791.9,156.9 L739.4,111.2 L743.8,105.6 L745.0,102.5 L753.8,93.8 L758.8,89.4 L771.9,101.2 L768.1,104.4 L777.5,112.5 L780.0,110.6 L786.2,116.2 L792.5,123.1 L792.5,123.1 L791.9,126.2 L798.8,133.8 L801.9,133.1 L815.0,146.9 L813.8,148.8 L820.0,156.9 L823.8,155.2 L848.8,185.0 L848.8,184.4 L846.9,186.9 L853.1,195.0 L855.6,194.4 L860.0,201.2 L865.0,210.0 L868.1,216.9 L867.5,219.4 L870.6,226.9 L873.1,228.1 L875.6,233.8 L877.5,242.5 L878.1,252.5 L876.9,257.5 L874.4,263.1 L863.8,266.9"/>
<path d="M758.8,96.2 L768.1,104.4"/>
<path d="M769.4,107.5 L790.0,128.1 L790.0,127.5 L810.0,150.0 L820.0,160.0 L842.5,186.2 L845.0,187.5 L852.5,196.2 L858.8,207.5 L863.8,218.8 L867.5,228.1 L870.0,237.5 L871.2,245.0 L871.9,247.5 L871.2,251.9 L862.5,257.5 L852.5,261.9 L830.6,276.2 L820.0,280.6 L816.2,283.1 L811.2,285.0 L805.0,285.2 L795.0,282.5 L779.4,277.5"/>
<path d="M791.9,126.2 L790.0,127.5"/>
<path d="M798.8,133.8 L797.5,135.4"/>
<path d="M813.8,148.8 L810.0,150.0"/>
<path d="M820.0,156.9 L820.0,160.0"/>
<path d="M848.8,185.0 L845.0,187.5"/>
<path d="M848.8,184.4 L845.0,187.5"/>
<path d="M853.1,195.0 L852.5,196.2"/>
<path d="M868.1,216.9 L863.8,218.8"/>
<path d="M870.6,226.9 L866.9,228.1"/>
<path d="M768.1,104.4 L769.4,105.6"/>
<path d="M753.8,93.8 L747.5,90.2 L743.8,90.6 L741.9,93.1 L741.2,97.5 L745.0,102.5"/>
<path d="M777.5,146.9 L776.9,152.5 L774.4,156.2 L768.8,159.4"/>
<path d="M645.6,178.5 L666.2,166.2 L700.6,196.9 L680.0,209.0 L645.6,178.5"/>
<path d="M665.6,170.6 L664.4,177.5 L666.2,184.4 L670.6,190.0 L675.6,193.8 L675.6,195.6"/>
<path d="M670.6,199.4 L675.6,197.2 L680.6,200.6 L688.8,189.4 L692.5,190.0 L699.4,197.5"/>
<path d="M600.0,174.4 L599.4,179.4 L604.4,185.0 L605.0,188.1 L608.1,188.8 L612.5,185.6 L622.5,193.1 L626.2,191.2 L635.0,195.0 L637.5,190.6 L641.9,189.4 L658.1,201.2"/>
<path d="M610.6,174.4 L609.4,180.0 L606.9,180.6"/>
<path d="M622.5,174.4 L630.6,181.2"/>
<path d="M624.4,186.2 L629.4,183.5 L637.5,190.6"/>
<path d="M635.0,195.0 L634.4,201.2 L638.1,204.4 L643.8,207.5 L645.0,212.5 L648.8,215.6 L652.5,215.0 L655.0,211.2 L661.9,215.6 L663.8,211.2 L668.8,209.4 L683.8,220.6"/>
<path d="M651.2,206.2 L656.2,203.8 L663.8,211.2"/>
<path d="M645.0,208.8 L648.1,211.2 L652.5,210.0"/>
<path d="M661.9,215.6 L663.1,218.1 L661.9,223.8 L661.2,224.4 L671.2,232.5 L678.1,228.8 L688.1,235.6 L691.2,229.4"/>
<path d="M676.9,225.6 L682.5,222.5 L691.2,229.4 L694.4,228.1 L716.2,244.4 L728.8,251.2"/>
<path d="M688.1,235.6 L687.5,240.0 L710.0,256.2 L709.4,261.2 L715.6,266.9 L719.4,267.5 L721.2,261.9 L723.8,260.6 L735.0,266.2 L735.6,261.2 L739.4,259.4 L766.9,271.2"/>
<path d="M710.0,256.2 L720.0,261.9"/>
<path d="M723.1,257.5 L727.5,253.1 L737.5,260.0"/>
<path d="M735.0,266.2 L734.4,271.2 L754.4,281.9 L761.2,283.1 L762.5,281.9 L776.2,286.2 L778.1,278.1 L765.0,274.4 L761.2,279.4"/>
<path d="M754.4,281.9 L760.6,283.1 L762.5,281.9 L776.2,285.6 L778.1,278.1 L765.6,274.4 L762.5,278.1"/>
<path d="M754.4,281.9 L770.6,297.5 L781.2,293.1 L776.2,290.0 L776.9,286.9"/>
<path d="M772.5,290.6 L771.2,296.9"/>
<path d="M776.9,290.0 L781.2,292.5 L800.0,298.1 L806.2,298.8 L812.5,298.1 L821.2,293.8 L823.1,286.9 L820.6,280.6"/>
<path d="M823.1,286.9 L834.4,281.9 L830.6,276.9"/>
<path d="M831.9,285.6 L838.8,283.1 L840.0,287.5"/>
<path d="M838.8,285.0 L847.5,282.5 L850.0,277.5 L851.2,271.9"/>
<path d="M850.0,277.5 L855.0,271.2 L856.9,266.2 L852.5,261.9"/>
<path d="M856.9,268.1 L865.0,265.0 L866.9,262.5 L862.5,257.5"/>
<path d="M761.2,189.4 L776.2,181.2 L780.0,180.4 L785.0,181.2 L800.0,194.4 L835.0,225.0 L847.5,236.2 L852.5,242.5 L853.8,248.1 L851.2,251.9 L838.8,258.8 L817.5,270.6 L808.8,275.0 L803.8,275.2 L798.1,273.1 L792.5,266.9 L782.5,257.5 L777.5,246.2 L770.6,228.8 L766.2,222.5 L760.0,215.6 L748.7,206.2 L746.2,197.5 L750.0,193.7 L761.2,189.4"/>
<path d="M781.9,185.6 L777.5,200.0 L756.2,211.2"/>
<path d="M777.5,200.0 L809.4,228.1 L838.8,255.6"/>
<path d="M781.2,185.0 L780.0,190.0"/>
<path d="M813.8,216.9 L809.4,228.1"/>
<path d="M808.1,231.2 L803.8,240.0"/>
<path d="M802.5,242.5 L798.8,251.9"/>
<path d="M793.8,220.6 L790.6,231.2"/>
<path d="M802.5,229.4 L791.2,234.4"/>
<path d="M787.5,237.5 L778.1,241.9"/>
<path d="M786.2,243.8 L784.4,251.2 L790.6,255.0"/>
<path d="M796.9,256.9 L795.6,260.0"/>
<path d="M777.5,242.5 L783.1,240.0"/>
<path d="M786.2,243.1 L784.4,251.2 L790.6,255.6"/>
<path d="M796.2,257.5 L792.5,266.9"/>
<path d="M799.4,261.2 L808.1,264.4"/>
<path d="M811.2,266.9 L816.2,270.0"/>
<path d="M788.1,172.2 L791.2,175.6 L810.0,167.2 L810.6,164.4 L808.1,161.2"/>
<path d="M791.2,175.6 L797.5,181.2 L805.0,186.2 L821.9,177.5 L810.0,167.2"/>
<path d="M821.9,177.5 L833.8,190.0 L835.6,192.5"/>
<path d="M805.0,186.2 L807.5,190.0 L815.0,195.0 L822.5,201.2"/>
<path d="M805.6,186.2 L817.5,180.6"/>
<path d="M704.3,75.2 L701.5,75.2 L697.3,71.7 L697.3,61.1 L698.4,60.2 L701.7,60.2 L705.5,62.1 L708.8,63.5 L710.6,65.6 L712.5,64.4 L713.4,65.1 L713.4,74.0 L709.7,71.2 L707.8,72.6"/>
<path d="M699.4,61.4 L701.7,65.6 L704.1,67.5 L707.3,68.6"/>
<path d="M704.3,69.1 L704.3,77.5 L705.9,78.7 L707.6,77.5 L707.6,69.1 L705.9,68.4 L704.3,69.1"/>
<path d="M708.8,72.9 L711.3,74.0 L713.4,74.0"/>
<path d="M629.4,248.8 L631.2,247.5 L636.9,253.1 L635.6,255.0 L629.4,248.8 L628.8,258.1 L635.6,265.0 L636.9,263.8 L636.2,254.4"/>
<path d="M636.9,253.1 L640.0,247.5 L645.6,251.2 L643.8,255.0 L640.6,262.5 L636.9,263.8"/>
<path d="M620.0,254.4 L628.8,254.4"/>
<path d="M956.2,19.4 L945.0,24.4 L938.8,31.2 L936.2,40.0 L936.9,48.8 L940.6,57.5 L946.2,63.8 L950.6,66.2 L952.5,65.0 L951.9,60.0 L950.6,52.5 L950.0,31.2 L945.0,27.5 L952.5,28.1 L955.6,26.2 L952.8,23.8"/>
<path d="M956.2,19.4 L962.5,22.5 L965.6,24.4 L965.6,30.0"/>
<path d="M958.1,23.8 L962.5,28.8 L977.5,44.4 L978.1,48.8 L975.0,56.2 L972.5,61.2 L963.8,66.9 L961.9,66.9 L960.0,64.4 L956.9,64.4 L953.1,62.5 L951.2,58.8"/>
<path d="M950.0,51.2 L965.0,63.1 L970.0,52.5 L977.5,48.8"/>
<path d="M950.0,31.2 L970.0,50.6 L970.0,52.5"/>
<path d="M956.4,45.4 L957.0,42.5 L959.8,39.6 L968.0,47.9 L967.4,54.1 L965.9,55.5 L956.4,47.1 L956.4,45.4"/>
<path d="M943.1,32.5 L945.0,36.2 L948.8,38.8"/>
<path d="M944.4,46.9 L946.2,48.1 L946.9,51.2 L945.6,53.1"/>
<path d="M965.0,63.1 L962.5,66.9"/>
<path d="M982.3,110.0 L983.3,102.5 L984.7,95.0 L986.1,87.5 L987.5,80.9 L989.4,76.7 L994.1,72.5 L999.7,67.8 L1006.2,65.0 L1011.9,63.3 L1016.6,63.3 L1021.2,67.3 L1025.0,72.0 L1028.7,80.0 L1031.6,87.5 L1033.7,94.1 L1034.4,100.6 L1034.5,103.3 L1033.8,110.3 L1029.8,121.2 L1024.4,130.6 L1018.1,136.9 L1012.7,140.8 L1011.1,145.5 L1007.2,150.2 L1000.9,153.3 L994.7,153.8 L990.0,150.2 L985.3,145.5 L979.1,138.4 L981.4,132.2 L982.2,127.5 L981.4,119.7 L982.3,110.0"/>
<path d="M996.9,74.4 L994.5,78.1 L994.5,83.7 L998.7,92.2 L1004.4,101.6 L1010.0,110.0 L1011.9,113.4 L1013.4,125.9 L1015.0,136.9"/>
<path d="M986.1,89.4 L989.4,98.7 L994.1,109.1 L995.5,110.3 L997.8,121.2 L999.4,136.9 L999.4,141.6"/>
<path d="M982.2,127.5 L991.6,136.9 L999.4,142.3 L1005.6,143.1 L1012.7,140.8"/>
<path d="M981.4,132.2 L990.0,140.8 L997.8,145.5 L1005.6,145.9 L1011.9,143.1"/>
<path d="M972.8,166.6 L976.7,171.2 L981.4,175.2 L982.2,178.3 L980.9,177.5"/>
<path d="M992.3,171.6 L1030.6,171.6"/>
<path d="M960.0,195.0 L933.8,174.0 L930.0,173.5 L926.2,174.4 L896.2,191.9 L893.1,195.0 L896.9,199.4 L916.2,215.0 L918.8,221.2 L922.5,232.5 L923.8,237.5 L930.0,250.0 L935.0,258.1 L945.0,267.5 L950.0,270.6 L955.0,271.2 L965.0,267.5 L987.5,256.2 L1000.0,248.8 L1005.0,241.9 L1003.1,236.2 L997.5,230.6 L983.8,216.9 L983.8,216.9"/>
<path d="M932.5,176.5 L930.0,176.5 L927.5,177.5 L901.2,193.1 L900.6,195.6 L906.2,202.5 L917.5,213.8 L922.5,221.2 L926.2,232.5 L930.0,235.0 L933.8,245.0 L940.0,252.5 L951.2,263.8 L955.0,264.4 L961.2,262.5 L998.8,241.2 L1000.0,237.5"/>
<path d="M896.9,199.4 L895.6,202.5 L895.6,208.1 L898.8,211.9 L901.9,212.5 L903.1,210.0 L901.2,207.5"/>
<path d="M903.8,211.2 L906.2,216.2 L910.0,218.8 L911.2,216.2 L904.4,210.6"/>
<path d="M910.0,218.8 L909.4,222.5 L917.5,228.8 L918.1,233.8 L920.6,237.5 L919.4,238.8 L930.0,258.1 L930.6,263.1 L933.8,264.4 L936.9,262.5 L937.5,261.2"/>
<path d="M905.0,195.4 L945.0,205.2"/>
<path d="M930.0,179.4 L938.8,186.9 L950.0,193.1 L960.0,196.2"/>
<path d="M948.1,203.8 L950.0,200.6 L957.5,196.2 L965.0,194.4 L970.0,194.8 L980.0,205.0 L983.8,209.4 L984.8,212.5 L983.8,216.9 L978.8,221.2 L972.5,224.4 L967.5,225.2 L961.2,222.5 L953.8,216.9 L949.4,211.2 L948.1,203.8"/>
<path d="M951.2,204.4 L955.0,208.8 L962.5,215.0 L970.0,219.4 L975.0,219.4 L980.0,216.9 L982.5,214.4 L982.8,211.2"/>
<path d="M968.8,200.4 L966.2,206.9"/>
<path d="M982.5,223.1 L986.2,225.0 L992.5,234.4 L997.5,239.4"/>
<path d="M1000.0,236.9 L998.8,240.6 L992.5,243.8"/>
<path d="M966.2,229.4 L962.5,245.0 L961.2,250.0 L956.2,260.6"/>
<path d="M937.5,263.8 L941.2,268.8 L945.0,270.0 L943.8,273.1 L945.0,275.6 L950.0,277.5 L955.0,276.2 L965.0,271.2 L973.8,266.9 L975.0,265.0 L982.5,263.1 L983.1,260.6 L988.8,259.4 L989.4,255.0 L993.8,252.5 L998.8,247.5"/>
<path d="M937.5,263.8 L938.8,261.9 L945.0,267.5"/>
<path d="M992.5,250.0 L996.2,248.8 L997.5,251.9 L994.4,253.8 L992.5,250.0"/>
<path d="M631.2,298.8 L650.0,288.5 L653.8,288.5 L661.2,295.0 L666.2,301.2 L669.4,307.5 L670.0,313.8 L668.1,320.0 L651.2,328.1"/>
<path d="M636.9,303.1 L642.5,306.9 L646.9,312.5 L650.0,320.0 L651.2,328.1 L650.6,329.4"/>
<path d="M635.0,310.0 L640.0,311.2 L643.8,315.0 L646.2,321.2 L646.9,329.4 L643.8,327.5 L643.1,330.6 L640.0,331.9 L636.2,330.0 L633.1,325.0 L633.8,317.5 L633.1,310.6"/>
<path d="M611.0,311.9 L615.6,302.2 L630.6,298.8 L633.8,303.8 L635.0,306.9"/>
<path d="M611.0,311.9 L613.8,321.2 L613.1,325.6 L620.6,333.1 L636.2,347.5 L647.5,355.6 L661.2,348.1 L660.0,345.0 L655.0,341.9 L652.5,345.0 L650.0,341.2 L652.5,336.9 L666.2,329.4 L665.0,321.9"/>
<path d="M652.5,336.9 L675.0,325.6 L680.0,328.8 L683.1,333.8 L683.1,338.8 L680.0,341.9 L668.1,348.1 L662.5,348.1 L655.0,341.9"/>
<path d="M666.2,322.5 L675.0,325.6"/>
<path d="M616.2,312.5 L626.2,308.8 L633.8,308.1"/>
<path d="M613.8,321.2 L620.6,313.8 L626.9,310.0"/>
<path d="M615.0,323.1 L618.8,322.5 L625.0,328.1 L625.0,332.5 L622.5,333.8"/>
<path d="M636.2,342.5 L640.0,341.9 L646.2,346.2 L647.5,351.2 L645.0,352.5"/>
<path d="M628.1,323.8 L631.2,321.2"/>
<path d="M636.2,347.5 L637.5,342.5"/>
<path d="M626.9,311.9 L626.9,316.2 L629.4,318.1 L632.5,317.5 L634.4,315.0 L633.8,312.5 L630.6,312.8"/>
<path d="M620.6,333.1 L616.2,317.5"/>
<path d="M628.8,326.2 L647.5,338.8 L650.0,341.2"/>
<path d="M650.0,290.6 L648.1,298.8"/>
<path d="M838.4,332.3 L853.4,323.4 L863.7,332.8 L848.7,341.7 L838.4,332.3 L837.5,333.7 L837.5,336.6 L847.3,345.5 L848.7,341.7"/>
<path d="M847.3,345.5 L863.3,336.1 L863.7,332.8"/>
<path d="M837.5,336.6 L834.7,338.0 L829.1,358.1 L841.7,368.4 L859.1,358.1 L861.4,348.3 L863.7,337.5 L863.3,336.1"/>
<path d="M846.4,347.8 L842.2,364.7"/>
<path d="M853.4,324.4 L851.6,332.8"/>
<path d="M644.4,381.2 L663.8,370.6 L671.2,366.0 L680.0,365.0 L688.8,365.2 L691.2,366.9 L697.5,364.4 L700.0,365.0 L705.0,368.1 L708.8,367.5 L713.8,371.2 L716.2,369.8 L720.0,372.5 L721.2,375.6 L718.1,377.5 L705.0,368.1"/>
<path d="M721.2,375.6 L737.5,384.0"/>
<path d="M663.8,370.6 L681.2,378.1 L690.0,372.5 L688.8,366.2"/>
<path d="M680.0,365.6 L688.8,372.5"/>
<path d="M681.2,378.1 L667.5,385.6 L658.1,379.4 L651.2,380.6 L650.0,384.4"/>
<path d="M667.5,385.6 L670.6,391.9"/>
<path d="M644.4,381.2 L643.1,392.5 L640.0,395.0 L638.8,396.9 L646.9,396.9 L645.0,394.4 L643.1,392.5"/>
<path d="M638.8,396.9 L635.6,395.6 L633.1,405.0 L629.4,408.1 L628.1,412.5 L630.6,416.2 L629.4,430.0 L628.8,436.2 L626.2,441.2 L625.6,448.8 L618.8,451.2 L616.9,453.1 L615.6,465.0 L613.8,480.0 L613.1,480.0 L613.8,485.0 L612.2,493.8"/>
<path d="M620.0,428.1 L624.4,427.5 L628.8,431.2"/>
<path d="M646.9,396.2 L660.0,395.6 L670.0,404.4 L671.2,405.0 L667.5,406.2 L667.5,412.5 L681.9,423.1 L682.5,420.6 L688.8,417.5 L692.5,418.8 L701.2,427.5 L703.8,432.5 L706.2,435.6 L703.1,436.9 L702.5,441.2 L709.4,450.0 L708.8,445.6 L710.0,444.4 L716.9,445.6 L720.0,449.4 L731.2,460.0 L736.2,468.1 L740.6,474.4 L784.4,449.8 L761.2,415.6 L760.6,413.8 L763.1,415.6 L765.0,414.4 L769.4,415.6 L771.2,420.0 L777.5,428.8 L782.5,438.8 L787.5,446.2 L795.6,451.2 L795.0,460.0 L793.8,465.0 L793.8,465.4 L789.4,503.1 L812.5,517.5 L820.0,521.9 L820.6,531.2 L812.5,535.6 L807.5,536.2 L805.0,531.9 L802.5,532.5 L788.8,540.0"/>
<path d="M801.7,533.4 L800.8,538.1 L800.3,542.8 L788.1,548.4 L769.8,558.7 L755.0,568.1 L740.0,576.9 L737.5,577.5 L733.8,576.5 L727.5,576.2 L702.5,572.5 L675.0,567.5 L662.5,561.2 L647.5,550.0 L640.0,542.5 L640.0,544.4 L560.0,487.5 L556.2,485.6 L556.2,480.0 L556.2,477.5 L557.5,471.2 L592.2,452.5 L593.8,443.8 L624.4,427.2 L629.4,431.2"/>
<path d="M652.5,398.1 L651.2,406.2 L658.1,411.2 L658.8,414.4"/>
<path d="M658.1,411.2 L659.4,401.9 L661.9,400.0"/>
<path d="M639.4,420.2 L646.2,423.8 L646.9,430.0 L646.9,443.1 L651.6,446.2 L650.0,460.0 L647.5,466.2 L646.2,464.4 L644.4,468.8 L631.2,460.6 L628.8,455.6 L618.8,451.9"/>
<path d="M693.8,396.2 L700.0,393.5 L705.6,393.1 L726.9,409.4 L722.5,412.5 L719.4,416.2 L719.4,418.1"/>
<path d="M693.8,396.2 L695.0,398.8 L719.4,418.1 L726.2,423.8"/>
<path d="M758.1,340.6 L761.9,340.6 L763.8,343.1 L763.1,346.9 L761.2,353.1 L760.6,360.0 L758.1,365.6 L755.0,367.5 L747.5,361.9 L746.2,358.8 L748.1,353.8 L751.9,352.5 L755.0,346.2 L758.1,340.6"/>
<path d="M751.2,350.6 L751.9,352.5 L753.8,355.6 L756.9,356.9 L758.8,356.2"/>
<path d="M748.1,353.8 L750.0,356.5 L755.0,359.8 L758.8,357.5"/>
<path d="M746.9,361.9 L737.5,383.8 L726.2,410.0 L723.8,414.4"/>
<path d="M756.2,367.5 L745.0,395.0 L734.4,420.0"/>
<path d="M700.0,366.2 L704.4,368.1 L706.9,367.2 L713.8,371.9 L715.6,370.0 L720.0,372.5 L721.2,375.6 L718.1,377.5 L704.4,368.1"/>
<path d="M721.9,375.0 L737.5,383.8"/>
<path d="M726.2,423.8 L734.4,423.1 L737.5,420.0 L736.9,416.2"/>
<path d="M736.9,423.1 L733.1,428.8"/>
<path d="M714.4,431.9 L725.6,424.4 L734.4,423.1 L738.1,421.2 L746.9,430.6 L726.9,442.5 L723.1,441.2 L714.4,431.9"/>
<path d="M719.4,418.8 L720.0,415.6 L723.8,411.9 L726.2,411.2"/>
<path d="M738.8,410.0 L736.9,416.2 L738.1,421.2"/>
<path d="M737.5,421.2 L733.1,428.8"/>
<path d="M744.4,395.6 L751.2,400.6 L755.6,401.2 L757.5,403.8 L757.5,406.9 L754.4,408.8 L743.1,398.1"/>
<path d="M757.5,407.5 L763.1,412.5 L761.2,416.2"/>
<path d="M763.1,414.4 L769.4,415.0"/>
<path d="M593.8,443.8 L592.2,452.5 L602.5,458.1 L603.1,451.9 L603.8,450.6"/>
<path d="M595.6,445.6 L601.2,450.0 L608.8,450.2 L625.6,444.8"/>
<path d="M602.5,458.1 L602.5,472.5 L613.8,480.6"/>
<path d="M556.2,477.5 L575.0,490.0 L613.8,516.2 L632.5,530.0 L640.0,538.1 L643.8,543.1 L650.0,543.5 L650.0,543.8 L667.5,556.2 L675.0,560.0 L690.0,564.4 L715.0,568.8 L733.1,571.5"/>
<path d="M633.8,478.1 L633.1,484.4 L631.2,490.0"/>
<path d="M667.5,410.0 L667.5,412.5 L681.9,422.5 L683.1,420.6 L688.8,417.8 L691.9,418.8 L696.2,422.5 L700.0,425.0"/>
<path d="M657.5,410.0 L658.5,414.4"/>
<path d="M775.6,456.9 L773.8,476.2 L770.0,503.8 L754.4,511.2 L758.8,472.5 L753.8,469.4"/>
<path d="M754.4,511.2 L753.1,517.5 L753.8,521.9"/>
<path d="M753.8,468.8 L758.8,471.9 L757.5,482.5"/>
<path d="M736.2,476.2 L743.8,481.2 L743.1,481.2 L740.0,510.0 L736.2,540.0 L733.1,569.4"/>
<path d="M789.4,503.1 L753.8,521.9 L740.0,530.6 L756.2,540.0"/>
<path d="M753.8,521.9 L771.9,533.1"/>
<path d="M777.5,535.6 L772.5,539.4"/>
<path d="M777.5,535.6 L785.0,540.0"/>
<path d="M796.9,525.6 L813.1,518.1"/>
<path d="M633.8,480.0 L633.1,486.2 L630.0,491.2 L625.0,495.6 L617.5,499.4"/>
<path d="M617.5,498.8 L611.9,498.5 L608.1,500.0 L606.5,503.8 L608.1,507.5 L611.9,509.4 L615.0,508.8"/>
<path d="M615.0,500.0 L615.0,516.2"/>
<path d="M611.9,501.9 L610.6,504.4 L612.5,506.9 L615.0,506.9"/>
<path d="M617.5,502.5 L633.1,513.1 L634.4,515.0 L632.5,530.0"/>
<path d="M653.1,498.1 L650.0,504.4 L645.0,509.4 L635.6,513.8"/>
<path d="M652.5,521.2 L653.1,517.5 L656.2,515.6 L660.6,515.6 L664.4,518.1 L668.8,525.0 L670.6,530.0 L670.6,534.4"/>
<path d="M660.0,521.9 L656.9,524.4 L656.9,528.1 L660.0,531.2 L664.4,531.2"/>
<path d="M668.1,534.4 L650.6,543.8"/>
<path d="M670.0,541.9 L668.8,543.8 L670.0,546.0 L673.8,546.2 L676.9,544.4 L677.2,542.2"/>
<path d="M688.1,549.4 L698.8,555.6 L715.0,562.5 L726.9,567.5"/>
<path d="M735.0,574.4 L737.5,577.5"/>
<path d="M740.0,576.9 L748.8,576.2 L753.1,572.5 L755.0,568.1"/>
<path d="M740.0,530.6 L753.8,523.8 L755.0,521.9"/>
<path d="M740.0,530.6 L760.0,542.5 L765.0,543.1 L777.5,536.0 L787.2,540.5 L788.1,542.3 L788.1,547.5 L786.7,550.8 L782.5,551.7 L772.2,550.3 L770.3,550.3"/>
<path d="M771.2,550.3 L769.8,558.7 L782.5,551.7"/>
<path d="M773.1,549.6 L778.7,553.9"/>
<path d="M756.2,522.5 L771.9,533.1"/>
<path d="M808.3,536.7 L807.8,545.6 L806.4,553.1 L803.6,555.5 L797.5,555.7 L793.3,554.1 L788.1,550.8"/>
<path d="M760.0,564.4 L769.8,558.7"/>
<path d="M643.4,599.5 L648.1,594.8 L655.6,590.2 L662.2,586.9 L665.9,586.7 L668.7,588.7 L671.1,591.1 L672.5,595.3 L672.7,604.7 L671.1,608.4 L668.3,610.8 L665.5,611.2 L663.6,609.4 L663.1,601.9 L662.2,599.5 L660.3,599.8 L655.6,602.8 L651.9,607.5 L651.4,620.6 L650.0,623.0 L644.8,624.8 L642.5,623.4 L641.1,617.8 L640.2,611.2 L641.1,605.6 L643.4,599.5"/>
<path d="M643.4,600.9 L664.1,588.7"/>
<path d="M643.9,602.3 L666.9,589.7"/>
<path d="M645.3,604.2 L660.3,595.3 L668.7,589.2"/>
<path d="M643.9,604.7 L643.4,620.6 L644.6,624.4"/>
<path d="M665.0,603.7 L665.9,607.0 L667.8,607.5 L668.3,605.2"/>
<path d="M648.6,618.3 L650.0,621.1 L651.4,618.7"/>
<path d="M306.2,514.4 L323.5,506.0"/>
<path d="M308.1,515.2 L323.5,508.2"/>
<path d="M323.8,531.5 L339.4,539.0"/>
<path d="M323.1,532.5 L339.8,541.5"/>
<path d="M319.0,533.2 L321.2,533.2"/>
<path d="M344.4,543.8 L344.4,529.6 L353.8,534.4"/>
<path d="M344.4,536.9 L349.4,539.4"/>
<path d="M357.5,551.9 L357.5,536.9 L365.0,541.0 L365.6,546.2 L364.4,547.8 L357.5,544.4"/>
<path d="M359.4,545.0 L365.9,555.9"/>
<path d="M369.4,543.1 L377.5,547.5 L377.5,563.5 L369.4,558.8 L369.4,543.1"/>
<path d="M382.5,565.6 L382.5,550.0 L390.6,570.6 L390.6,555.0"/>
<path d="M394.4,557.2 L403.8,562.5"/>
<path stroke-dasharray="7 2.5" d="M213.5,246.5 L164.2,414.8"/>
<path stroke-dasharray="11 3 4 3" d="M170.5,392.2 L194.7,378.9"/>
<path stroke-dasharray="7 3" d="M170.5,392.2 L258.1,438.8"/>
<path stroke-dasharray="7 3" d="M258.1,438.8 L325.0,401.2"/>
<path stroke-dasharray="5 2.5" d="M262.5,423.1 L258.1,438.8"/>
<path stroke-dasharray="9 3.5" d="M766.2,160.6 L708.7,193.1"/>
<path stroke-dasharray="9 3.5" d="M813.8,216.9 L871.2,248.8 L896.9,262.5 L932.5,283.1"/>
<path stroke-dasharray="5 4" d="M932.5,283.1 L938.7,268.7"/>
<path stroke-dasharray="9.5 4.5" d="M709.5,72.5 L741.9,93.1"/>
<path stroke-dasharray="10.5 3.7" d="M727.5,83.8 L584.4,164.0"/>
<path stroke-dasharray="8 4" d="M584.4,164.0 L598.8,174.4"/>
<path stroke-dasharray="6 3" d="M649.4,215.0 L641.9,236.9"/>
<path stroke-dasharray="6 4" d="M643.1,231.2 L657.5,223.1"/>
<path stroke-dasharray="9.5 3.5" d="M643.1,231.9 L708.8,281.9"/>
<path stroke-dasharray="9 4" d="M708.8,281.9 L730.0,271.2"/>
<path stroke-dasharray="6 3" d="M713.8,267.5 L708.8,281.9"/>
<path stroke-dasharray="8 4" d="M667.5,233.1 L651.2,286.2"/>
<path stroke-dasharray="8.5 4.5" d="M781.2,293.8 L761.9,340.0"/>
<path stroke-dasharray="11 4" d="M838.8,284.4 L862.5,296.2"/>
<path stroke-dasharray="9 4" d="M862.5,296.9 L851.2,332.5"/>
<path stroke-dasharray="9 3.5" d="M971.2,58.1 L990.0,76.2"/>
<path stroke-dasharray="5 3" d="M989.2,150.2 L984.5,161.1"/>
<path stroke-dasharray="6 4" d="M979.1,175.9 L973.6,188.4 L970.6,195.0"/>
<path stroke-dasharray="8 4.5" d="M770.6,320.6 L761.9,340.0"/>
<path stroke-dasharray="8 4" d="M653.9,556.0 L654.3,603.0"/>
<path stroke-dasharray="1.2 2.2" d="M307.5,515.2 L316.9,529.4"/>
<path stroke-dasharray="4 1.5" d="M324.4,517.5 L340.0,527.5"/>
<path stroke-width="2" d="M158.8,440.0 L158.8,478.6"/>
<path stroke-width="1.8" d="M240.0,409.4 L238.1,415.0 L240.0,417.5"/>
<path stroke-width="1.6" d="M159.4,417.5 L156.9,420.0 L156.2,423.1"/>
<path stroke-width="2" d="M877.9,247.5 L878.1,253.1"/>
<path stroke-width="1.8" d="M717.5,265.6 L720.0,265.0"/>
<path stroke-width="1.6" d="M803.8,244.4 L798.8,252.5"/>
<path stroke-width="1.8" d="M638.8,246.9 L640.0,241.9"/>
<path stroke-width="1.7" d="M972.8,166.6 L976.7,163.4 L981.4,162.7 L983.0,166.6 L986.9,169.7 L992.3,171.6"/>
<path stroke-width="1.6" d="M960.0,252.5 L956.5,260.2"/>
<path stroke-width="1.7" d="M719.0,419.0 L719.8,415.6"/>
<path stroke-width="1.8" d="M799.9,538.6 L800.3,542.8"/>
<path stroke-width="1.8" d="M639.7,607.5 L639.7,611.2"/>
<path stroke-width="1.6" d="M323.1,505.6 L323.1,517.5"/>
<path stroke-width="1.6" d="M323.1,529.4 L323.1,543.8"/>
<path stroke-width="1.7" d="M399.5,560.2 L399.5,575.0"/>
</g>
<g fill="none" stroke="#000" stroke-width="1.1">
<ellipse cx="177.5" cy="368.3" rx="2.4" ry="2.2"/>
<ellipse cx="183.2" cy="373.2" rx="1.1" ry="1.0"/>
<ellipse cx="265" cy="415.3" rx="2.9" ry="2.3"/>
<path d="M154.9,427.2 C146,428.5 146,437 152,440.2 C158,443 167.5,441 167.8,434.5 C167.9,432 166.5,430.3 164.3,429.5"/>
<ellipse cx="621.9" cy="306.3" rx="2.4" ry="2.1"/>
<ellipse cx="629.4" cy="304" rx="1.7" ry="1.5"/>
<ellipse cx="639.4" cy="319.4" rx="1.9" ry="2.1" transform="rotate(-25 639.4 319.4)"/>
<ellipse cx="663.1" cy="339.4" rx="3.1" ry="2.2" transform="rotate(-20 663.1 339.4)"/>
<ellipse cx="674.8" cy="333.5" rx="3.1" ry="2.1" transform="rotate(-20 674.8 333.5)"/>
<path stroke-width="1.8" stroke-dasharray="2.2 2" d="M632,300 L650,290.5"/>
<ellipse cx="757.5" cy="531.5" rx="2.8" ry="2.1" transform="rotate(-15 757.5 531.5)"/>
<ellipse cx="810.4" cy="528" rx="1.8" ry="1.5" stroke-width="1.5"/>
<ellipse cx="783.2" cy="543" rx="1.8" ry="1.5" stroke-width="1.5"/>
<ellipse cx="672.5" cy="544.4" rx="9.2" ry="6.2"/>
</g>
</svg>
</body></html>
